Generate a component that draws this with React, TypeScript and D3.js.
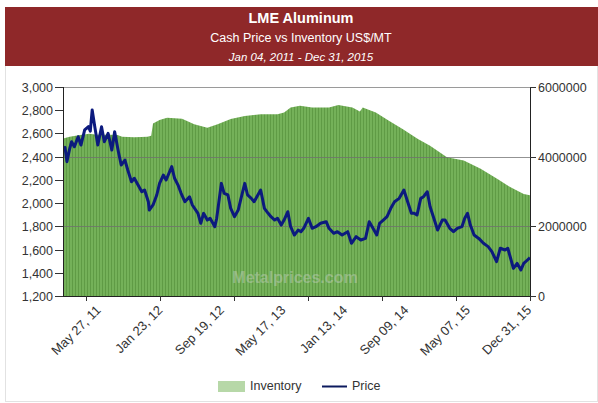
import React from 'react';
import * as d3 from 'd3';

// LME aluminium cash price (US$/MT), by decimal year
const priceYears = [
  2011.01, 2011.03, 2011.05, 2011.08, 2011.10, 2011.13, 2011.17, 2011.20, 2011.24, 2011.28,
  2011.30, 2011.32, 2011.35, 2011.38, 2011.42, 2011.45, 2011.49, 2011.53, 2011.56, 2011.60,
  2011.63, 2011.67, 2011.70, 2011.74, 2011.77, 2011.81, 2011.85, 2011.88, 2011.92, 2011.93,
  2011.97, 2012.01, 2012.04, 2012.08, 2012.11, 2012.17, 2012.20, 2012.24, 2012.27, 2012.31,
  2012.36, 2012.39, 2012.45, 2012.48, 2012.51, 2012.55, 2012.58, 2012.63, 2012.65, 2012.70,
  2012.73, 2012.77, 2012.80, 2012.84, 2012.88, 2012.91, 2012.95, 2012.98, 2013.02, 2013.05,
  2013.09, 2013.12, 2013.16, 2013.20, 2013.23, 2013.27, 2013.30, 2013.34, 2013.37, 2013.41,
  2013.44, 2013.48, 2013.52, 2013.55, 2013.58, 2013.63, 2013.67, 2013.71, 2013.76, 2013.82,
  2013.85, 2013.90, 2013.94, 2013.99, 2014.05, 2014.09, 2014.14, 2014.19, 2014.24, 2014.28,
  2014.32, 2014.36, 2014.39, 2014.43, 2014.47, 2014.51, 2014.55, 2014.60, 2014.65, 2014.69,
  2014.73, 2014.76, 2014.79, 2014.83, 2014.86, 2014.90, 2014.93, 2014.97, 2015.01, 2015.06,
  2015.09, 2015.14, 2015.18, 2015.22, 2015.27, 2015.30, 2015.33, 2015.36, 2015.40, 2015.45,
  2015.50, 2015.55, 2015.59, 2015.64, 2015.68, 2015.73, 2015.76, 2015.79, 2015.82, 2015.86,
  2015.90, 2015.93, 2015.97, 2015.997,
];
const priceValues = [
  2460, 2480, 2357, 2470, 2529, 2486, 2572, 2500, 2630, 2658,
  2620, 2802, 2647, 2500, 2658, 2529, 2601, 2457, 2615, 2443,
  2328, 2371, 2285, 2184, 2214, 2156, 2098, 2113, 2012, 1940,
  1984, 2070, 2170, 2242, 2199, 2314, 2214, 2150, 2084, 2012,
  2055, 1984, 1912, 1826, 1912, 1854, 1869, 1797, 1869, 2170,
  2084, 2070, 1955, 1883, 1940, 2041, 2170, 2070, 2041, 2012,
  2070, 2113, 1955, 1912, 1883, 1854, 1869, 1811, 1854, 1926,
  1797, 1725, 1768, 1754, 1783, 1869, 1783, 1797, 1826, 1840,
  1783, 1740, 1754, 1725, 1754, 1654, 1711, 1682, 1696, 1840,
  1783, 1725, 1826, 1854, 1883, 1955, 2012, 2041, 2113, 2012,
  1912, 1912, 1897, 2041, 2055, 2098, 1969, 1869, 1768, 1854,
  1854, 1783, 1754, 1783, 1797, 1869, 1912, 1811, 1725, 1696,
  1654, 1625, 1582, 1496, 1611, 1596, 1611, 1525, 1438, 1481,
  1424, 1481, 1510, 1530,
];

// LME aluminium inventory (tonnes)
const invYears = [
  2011.01, 2011.08, 2011.19, 2011.29, 2011.37, 2011.51, 2011.59, 2011.64, 2011.77, 2011.91,
  2011.95, 2011.97, 2012.04, 2012.12, 2012.28, 2012.41, 2012.55, 2012.66, 2012.80, 2012.95,
  2013.12, 2013.30, 2013.37, 2013.44, 2013.54, 2013.67, 2013.85, 2013.95, 2014.10, 2014.18,
  2014.21, 2014.35, 2014.49, 2014.64, 2014.80, 2014.93, 2015.11, 2015.29, 2015.47, 2015.65,
  2015.79, 2015.93, 2015.997,
];
const invValues = [
  4520000, 4570000, 4620000, 4660000, 4630000, 4630000, 4620000, 4570000, 4560000, 4570000,
  4600000, 4950000, 5050000, 5120000, 5090000, 4930000, 4830000, 4930000, 5080000, 5170000,
  5220000, 5220000, 5270000, 5410000, 5460000, 5410000, 5410000, 5480000, 5410000, 5300000,
  5410000, 5270000, 5030000, 4790000, 4510000, 4310000, 3980000, 3890000, 3650000, 3360000,
  3120000, 2930000, 2890000,
];

const leftTicks = [1200, 1400, 1600, 1800, 2000, 2200, 2400, 2600, 2800, 3000];
const rightTicks = [0, 2000000, 4000000, 6000000];
const dateLabels = ['May 27, 11', 'Jan 23, 12', 'Sep 19, 12', 'May 17, 13', 'Jan 13, 14', 'Sep 09, 14', 'May 07, 15', 'Dec 31, 15'];
const dateLabelDays = ['2011-05-27', '2012-01-23', '2012-09-19', '2013-05-17', '2014-01-13', '2014-09-09', '2015-05-07', '2015-12-31'];

const toYear = (s: string) => {
  const d = new Date(s + 'T00:00:00Z');
  const y = d.getUTCFullYear();
  const a = Date.UTC(y, 0, 1);
  const b = Date.UTC(y + 1, 0, 1);
  return y + (d.getTime() - a) / (b - a);
};

const FONT = 'Arial, "Liberation Sans", sans-serif';

export default function App() {
  const W = 598, H = 403;
  const left = 63, right = 530, top = 87, bottom = 296;

  const x = d3.scaleLinear().domain([toYear('2011-01-04'), toYear('2015-12-31')]).range([left, right]);
  const yL = d3.scaleLinear().domain([1200, 3000]).range([bottom, top]);
  const yR = d3.scaleLinear().domain([0, 6000000]).range([bottom, top]);

  const inv = invYears.map((t, i) => [t, invValues[i]] as [number, number]);
  const price = priceYears.map((t, i) => [t, priceValues[i]] as [number, number]);

  const area = d3.area<[number, number]>()
    .x(d => x(d[0]))
    .y0(bottom)
    .y1(d => yR(d[1]));
  const line = d3.line<[number, number]>()
    .x(d => x(d[0]))
    .y(d => yL(d[1]));

  // tick marks on the date axis are spaced evenly back from the last date
  const end = x.domain()[1];
  const step = (x.domain()[1] - x.domain()[0]) * 74 / (right - left);
  const xTickMarks = d3.range(7).map(k => end - (6 - k) * step);

  return (
    <svg width={W} height={H} style={{ position: 'absolute', left: 0, top: 0, background: '#fff' }} fontFamily={FONT}>
      <defs>
        <pattern id="stripes" x={left} y={0} width={3} height={10} patternUnits="userSpaceOnUse">
          <rect width={3} height={10} fill="#74b159" />
          <rect width={1} height={10} fill="#5f9b45" />
        </pattern>
        <clipPath id="plot">
          <rect x={left} y={top} width={right - left} height={bottom - top} />
        </clipPath>
      </defs>

      {/* frame and banner */}
      <rect x={5.5} y={7.5} width={592} height={394} fill="none" stroke="#e2e2e2" />
      <rect x={5} y={7} width={593} height={59} fill="#8f2829" />
      <text x={301} y={23} textAnchor="middle" fill="#fff" fontSize={14.5} fontWeight="bold">LME Aluminum</text>
      <text x={301} y={42} textAnchor="middle" fill="#fff" fontSize={12.5}>Cash Price vs Inventory US$/MT</text>
      <text x={301} y={61} textAnchor="middle" fill="#fff" fontSize={11.5} fontStyle="italic">Jan 04, 2011 - Dec 31, 2015</text>

      {/* inventory */}
      <path d={area(inv) ?? ''} fill="url(#stripes)" clipPath="url(#plot)" />

      {/* grid */}
      <line x1={left} x2={right} y1={top + 0.5} y2={top + 0.5} stroke="#9a9a9a" />
      {rightTicks.slice(1, 3).map(v => (
        <line key={v} x1={left} x2={right} y1={Math.round(yR(v)) + 0.5} y2={Math.round(yR(v)) + 0.5} stroke="#6f6f6f" strokeOpacity={0.75} />
      ))}

      <text x={295} y={283} textAnchor="middle" fill="#d6d6d6" fillOpacity={0.4} fontSize={16} fontWeight="bold">Metalprices.com</text>

      {/* price */}
      <path d={line(price) ?? ''} fill="none" stroke="#0c1a7e" strokeWidth={3} strokeLinejoin="round" clipPath="url(#plot)" />

      {/* axes */}
      <line x1={left + 0.5} x2={left + 0.5} y1={top} y2={bottom} stroke="#222" />
      <line x1={right + 0.5} x2={right + 0.5} y1={top} y2={bottom} stroke="#222" />
      <line x1={left} x2={right} y1={bottom + 0.5} y2={bottom + 0.5} stroke="#222" />

      {leftTicks.map(v => (
        <g key={v} transform={`translate(0,${Math.round(yL(v)) + 0.5})`}>
          <line x1={55} x2={left} stroke="#333" />
          <text x={53} dy="0.35em" textAnchor="end" fill="#333" fontSize={12.5}>{d3.format(',')(v)}</text>
        </g>
      ))}
      {rightTicks.map(v => (
        <g key={v} transform={`translate(0,${Math.round(yR(v)) + 0.5})`}>
          <line x1={right} x2={right + 6} stroke="#333" />
          <text x={right + 8} dy="0.35em" fill="#333" fontSize={12.5}>{v}</text>
        </g>
      ))}
      {xTickMarks.map((t, i) => (
        <line key={i} x1={Math.round(x(t)) + 0.5} x2={Math.round(x(t)) + 0.5} y1={bottom} y2={bottom + 5} stroke="#333" />
      ))}
      {dateLabels.map((s, i) => (
        <text key={s} transform={`translate(${x(toYear(dateLabelDays[i])) + 2},${bottom + 15}) rotate(-45)`}
          textAnchor="end" fill="#333" fontSize={13}>{s}</text>
      ))}

      {/* legend */}
      <rect x={218} y={381} width={27} height={11} fill="#b7d8a8" />
      <text x={250} y={390} fill="#333" fontSize={12.5}>Inventory</text>
      <line x1={322} x2={347} y1={386.5} y2={386.5} stroke="#0c1a5e" strokeWidth={2} />
      <text x={352} y={390} fill="#333" fontSize={12.5}>Price</text>
    </svg>
  );
}
